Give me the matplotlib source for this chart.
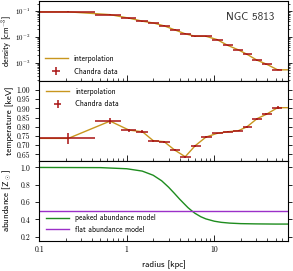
import numpy as np
import matplotlib
matplotlib.use('Agg')
import matplotlib.pyplot as plt
from matplotlib.ticker import MultipleLocator, FormatStrFormatter

plt.rcParams['font.family'] = ['cmss10', 'DejaVu Sans']
plt.rcParams['mathtext.fontset'] = 'cm'
plt.rcParams['axes.formatter.use_mathtext'] = True
plt.rcParams['axes.unicode_minus'] = False

# Chandra deprojected profile of NGC 5813 (radii in kpc)
radius = [0.215, 0.644, 1.06, 1.51, 2.01, 2.67, 3.51, 4.65, 6.04, 8.02,
          10.7, 14.2, 18.9, 23.6, 30.7, 39.3, 52.8]
bin_edges = [0.0, 0.43, 0.85, 1.29, 1.76, 2.34, 3.09, 4.08, 5.35, 7.03,
             9.36, 12.4, 16.5, 21.2, 27.1, 35.0, 46.0, 60.0]
density = [0.095, 0.074, 0.054, 0.041, 0.035, 0.027, 0.019, 0.0132, 0.0106, 0.0106,
           0.0079, 0.0047, 0.0031, 0.0021, 0.00124, 0.00087, 0.00052]
density_err = [0.004, 0.003, 0.002, 0.0015, 0.0012, 0.001, 0.0007, 0.0005, 0.0004, 0.0004,
               0.0003, 0.0002, 0.00012, 0.00008, 0.00005, 0.00004, 0.00003]
temperature = [0.737, 0.831, 0.782, 0.773, 0.724, 0.719, 0.674, 0.637, 0.697, 0.744,
               0.764, 0.773, 0.779, 0.800, 0.844, 0.868, 0.904]
temperature_err = [0.028, 0.018, 0.008, 0.008, 0.006, 0.005, 0.005, 0.006, 0.005, 0.004,
                   0.004, 0.004, 0.004, 0.005, 0.005, 0.006, 0.008]

# abundance models
abund_r = [0.1, 0.5, 1.0, 1.5, 2.0, 2.5, 3.0, 3.5, 4.0, 4.5, 5.0, 5.5, 6.0, 7.0, 8.0,
           10.0, 12.0, 15.0, 20.0, 30.0, 50.0, 70.0]
abund_peaked = [1.0, 0.998, 0.985, 0.958, 0.91, 0.846, 0.772, 0.70, 0.635, 0.582, 0.535,
                0.50, 0.47, 0.43, 0.405, 0.378, 0.365, 0.356, 0.35, 0.347, 0.345, 0.345]
abund_flat = 0.5

rmin, rmax = 0.1, 70.0
line_col = '#c8961e'
data_col = '#a81212'

r = np.array(radius)
edges = np.array(bin_edges)
xerr = [r - edges[:-1], edges[1:] - r]

fig, axes = plt.subplots(3, 1, sharex=True, figsize=(2.93, 2.71), dpi=100)
fig.subplots_adjust(left=0.134, right=0.984, top=0.996, bottom=0.111, hspace=0)
ax1, ax2, ax3 = axes

# density
ax1.plot([rmin] + radius + [rmax], [density[0]] + density + [density[-1]],
         color=line_col, lw=1.0, label='interpolation')
ax1.errorbar(radius, density, xerr=xerr, yerr=density_err, fmt='none',
             ecolor=data_col, elinewidth=1.1, label='Chandra data')
ax1.set_yscale('log')
ax1.set_ylim(1.9e-4, 0.25)
ax1.set_ylabel('density [cm$^{-3}$]')
ax1.text(0.845, 0.8, 'NGC 5813', transform=ax1.transAxes, ha='center', va='center',
         fontsize=8, color='#333333')
ax1.legend(loc='lower left', frameon=False, fontsize=5.5, handlelength=3.0,
           borderaxespad=0.3, labelspacing=0.6)

# temperature
ax2.plot([rmin] + radius + [rmax], [temperature[0]] + temperature + [temperature[-1]],
         color=line_col, lw=1.0, label='interpolation')
ax2.errorbar(radius, temperature, xerr=xerr, yerr=temperature_err, fmt='none',
             ecolor=data_col, elinewidth=1.1, label='Chandra data')
ax2.set_ylim(0.614, 1.049)
ax2.yaxis.set_major_locator(MultipleLocator(0.05))
ax2.yaxis.set_major_formatter(FormatStrFormatter('%.2f'))
ax2.set_ylabel('temperature [keV]')
ax2.legend(loc='upper left', frameon=False, fontsize=5.5, handlelength=3.0,
           borderaxespad=0.5, labelspacing=0.6)

# abundance
ax3.plot(abund_r, abund_peaked, color='#1e8c1e', lw=1.0, label='peaked abundance model')
ax3.axhline(abund_flat, color='#9b30c8', lw=1.0, label='flat abundance model')
ax3.set_ylim(0.15, 1.075)
ax3.yaxis.set_major_locator(MultipleLocator(0.2))
ax3.yaxis.set_major_formatter(FormatStrFormatter('%.1f'))
ax3.set_ylabel(r'abundance [Z$_\odot$]')
ax3.legend(loc='lower left', frameon=False, fontsize=5.5, handlelength=3.0,
           borderaxespad=0.5, labelspacing=0.5)

ax3.set_xscale('log')
ax3.set_xlim(rmin, rmax)
ax3.xaxis.set_major_formatter(FormatStrFormatter('%g'))
ax3.set_xlabel('radius [kpc]', fontsize=6.5)

for ax in axes:
    ax.tick_params(axis='x', which='both', direction='in', top=False)
    ax.tick_params(axis='x', which='major', length=4, width=0.6)
    ax.tick_params(axis='x', which='minor', length=2, width=0.5)
    ax.tick_params(axis='y', which='both', direction='out', left=True, right=True)
    ax.tick_params(axis='y', which='major', length=3, width=0.6)
    ax.tick_params(axis='y', which='minor', length=1.5, width=0.5)
    ax.tick_params(labelsize=5.5, labelfontfamily='cmr10')
    ax.yaxis.label.set_size(6.5)
    ax.yaxis.set_label_coords(-0.1, 0.5)
    for s in ax.spines.values():
        s.set_linewidth(0.8)
ax1.tick_params(axis='y', labelsize=5)
ax1.yaxis.label.set_size(6)

fig.savefig('out.png', dpi=100)
